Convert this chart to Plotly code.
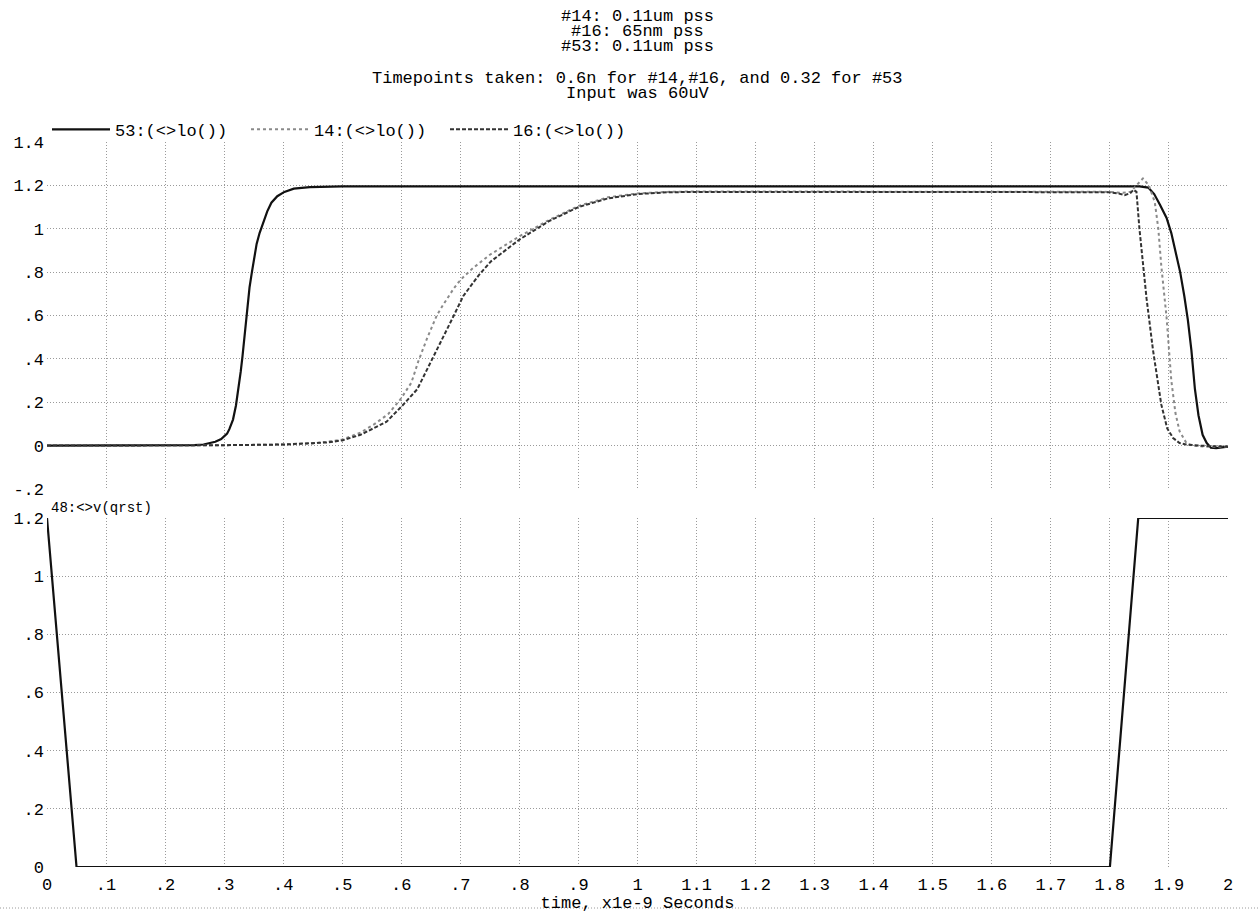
import plotly.graph_objects as go

# ---- data (time in ns) ----
t53 = [0, 0.1, 0.2, 0.25, 0.265, 0.275, 0.285, 0.295, 0.305, 0.309, 0.315, 0.32, 0.325, 0.328,
       0.331, 0.334, 0.337, 0.339, 0.343, 0.347, 0.351, 0.355, 0.36, 0.366, 0.373, 0.38,
       0.39, 0.402, 0.418, 0.445, 0.5, 1.0, 1.5, 1.8, 1.85, 1.865, 1.875, 1.885, 1.896,
       1.904, 1.912, 1.919, 1.926, 1.932, 1.938, 1.944, 1.95, 1.957, 1.964, 1.971, 1.98,
       1.99, 2.0]
v53 = [0, 0, 0, 0.002, 0.005, 0.01, 0.018, 0.03, 0.055, 0.077, 0.12, 0.185, 0.27, 0.34,
       0.41, 0.49, 0.57, 0.645, 0.73, 0.8, 0.87, 0.93, 0.98, 1.03, 1.08, 1.12,
       1.15, 1.17, 1.185, 1.192, 1.195, 1.195, 1.195, 1.195, 1.195, 1.19, 1.16, 1.11, 1.05,
       0.98, 0.89, 0.80, 0.69, 0.58, 0.44, 0.26, 0.14, 0.05, 0.012, -0.01, -0.012,
       -0.008, -0.005]

t14 = [0, 0.2, 0.3, 0.4, 0.45, 0.475, 0.5, 0.531, 0.555, 0.578, 0.599, 0.617, 0.629,
       0.643, 0.66, 0.671, 0.68, 0.689, 0.696, 0.706, 0.722, 0.75, 0.8, 0.85, 0.9, 0.95,
       1.0, 1.05, 1.1, 1.5, 1.8, 1.82, 1.835, 1.845, 1.856, 1.866, 1.876, 1.882, 1.887,
       1.896, 1.904, 1.911, 1.918, 1.93, 1.94, 1.96, 2.0]
v14 = [0, 0, 0.002, 0.005, 0.01, 0.018, 0.028, 0.06, 0.1, 0.146, 0.215, 0.29, 0.39,
       0.49, 0.6, 0.65, 0.69, 0.725, 0.75, 0.78, 0.82, 0.88, 0.965, 1.04, 1.105, 1.145,
       1.163, 1.17, 1.172, 1.172, 1.17, 1.165, 1.17, 1.2, 1.232, 1.2, 1.123, 1.0, 0.83,
       0.59, 0.3, 0.15, 0.066, 0.01, 0.0, -0.005, -0.005]

t16 = [0, 0.2, 0.3, 0.4, 0.45, 0.475, 0.5, 0.531, 0.575, 0.602, 0.627, 0.649, 0.672,
       0.689, 0.705, 0.721, 0.731, 0.752, 0.8, 0.85, 0.9, 0.95, 1.0, 1.05, 1.1, 1.5, 1.8,
       1.815, 1.825, 1.835, 1.84, 1.845, 1.85, 1.856, 1.862, 1.873, 1.887, 1.897, 1.907,
       1.918, 1.929, 1.95, 2.0]
v16 = [0, 0, 0.002, 0.005, 0.01, 0.015, 0.024, 0.05, 0.11, 0.185, 0.26, 0.38, 0.5,
       0.6, 0.69, 0.75, 0.785, 0.85, 0.95, 1.035, 1.1, 1.14, 1.16, 1.168, 1.17, 1.17, 1.168,
       1.162, 1.155, 1.165, 1.18, 1.17, 1.0, 0.84, 0.68, 0.44, 0.19, 0.08, 0.035,
       0.012, 0.005, 0.0, -0.005]

t48 = [0, 0.05, 1.8, 1.848, 2.0]
v48 = [1.2, 0, 0, 1.2, 1.2]

xtick_vals = [0, 0.1, 0.2, 0.3, 0.4, 0.5, 0.6, 0.7, 0.8, 0.9, 1.0, 1.1, 1.2, 1.3, 1.4,
              1.5, 1.6, 1.7, 1.8, 1.9, 2.0]
xtick_text = ["0", ".1", ".2", ".3", ".4", ".5", ".6", ".7", ".8", ".9", "1", "1.1", "1.2",
              "1.3", "1.4", "1.5", "1.6", "1.7", "1.8", "1.9", "2"]
ytop_vals = [-0.2, 0, 0.2, 0.4, 0.6, 0.8, 1.0, 1.2, 1.4]
ytop_text = ["-.2", "0", ".2", ".4", ".6", ".8", "1", "1.2", "1.4"]
ybot_vals = [0, 0.2, 0.4, 0.6, 0.8, 1.0, 1.2]
ybot_text = ["0", ".2", ".4", ".6", ".8", "1", "1.2"]

FONT = "Liberation Mono"
GRID = "#9a9a9a"
FS = 17

fig = go.Figure()
fig.add_trace(go.Scatter(x=t53, y=v53, mode="lines", name="53:(<>lo())",
                         line=dict(color="#111111", width=2.2), xaxis="x", yaxis="y"))
fig.add_trace(go.Scatter(x=t14, y=v14, mode="lines", name="14:(<>lo())",
                         line=dict(color="#8a8a8a", width=2, dash="dot"), xaxis="x", yaxis="y"))
fig.add_trace(go.Scatter(x=t16, y=v16, mode="lines", name="16:(<>lo())",
                         line=dict(color="#333333", width=2, dash="4px,2px"), xaxis="x", yaxis="y"))
fig.add_trace(go.Scatter(x=t48, y=v48, mode="lines", name="48:<>v(qrst)", showlegend=False,
                         line=dict(color="#111111", width=2.2), xaxis="x2", yaxis="y2"))

axis_common = dict(showgrid=True, gridcolor=GRID, griddash="1px,2px", gridwidth=1,
                   zeroline=False, showline=False, ticks="", automargin=False,
                   tickfont=dict(family=FONT, size=FS, color="black"))

fig.update_layout(
    width=1258, height=913,
    margin=dict(l=47, r=30, t=142, b=46),
    paper_bgcolor="white", plot_bgcolor="white",
    font=dict(family=FONT, color="black"),
    xaxis=dict(domain=[0, 1], range=[0, 2], anchor="y", matches="x2",
               tickvals=xtick_vals, showticklabels=False, **axis_common),
    yaxis=dict(domain=[0.5214, 1], range=[-0.2, 1.4], anchor="x",
               tickvals=ytop_vals, ticktext=ytop_text, ticklabelstandoff=2, **axis_common),
    xaxis2=dict(domain=[0, 1], range=[0, 2], anchor="y2",
                tickvals=xtick_vals, ticktext=xtick_text, ticklabelstandoff=5,
                title=dict(text="time, x1e-9 Seconds", standoff=0,
                           font=dict(family=FONT, size=FS, color="black")),
                **axis_common),
    yaxis2=dict(domain=[0, 0.4814], range=[0, 1.2], anchor="x2",
                tickvals=ybot_vals, ticktext=ybot_text, ticklabelstandoff=2, **axis_common),
    legend=dict(orientation="h", x=0, xanchor="left", y=0.992, yanchor="bottom",
                font=dict(family=FONT, size=FS, color="black"),
                entrywidth=126, entrywidthmode="pixels",
                bgcolor="rgba(0,0,0,0)", itemwidth=58,
                tracegroupgap=0),
    showlegend=True,
)

title_lines = [
    ("#14: 0.11um pss", 17),
    ("#16: 65nm pss", 32),
    ("#53: 0.11um pss", 47),
    ("Timepoints taken: 0.6n for #14,#16, and 0.32 for #53", 79),
    ("Input was 60uV", 94),
]
for txt, ypx in title_lines:
    fig.add_annotation(text=txt, xref="paper", yref="paper", x=0.5,
                       y=1 + (142 - ypx) / 725.0, xanchor="center", yanchor="middle",
                       showarrow=False, font=dict(family=FONT, size=FS, color="black"))

fig.add_annotation(text="48:<>v(qrst)", xref="x2 domain", yref="y2 domain", x=0.002, y=1.0,
                   xanchor="left", yanchor="bottom", showarrow=False,
                   font=dict(family=FONT, size=14, color="black"))

# dotted baseline at the very bottom of the page
fig.add_shape(type="line", xref="paper", yref="paper", x0=-47 / 1181, x1=1211 / 1181,
              y0=-41 / 725, y1=-41 / 725, line=dict(color=GRID, width=1, dash="1px,2px"))

fig.write_html("out.html")
